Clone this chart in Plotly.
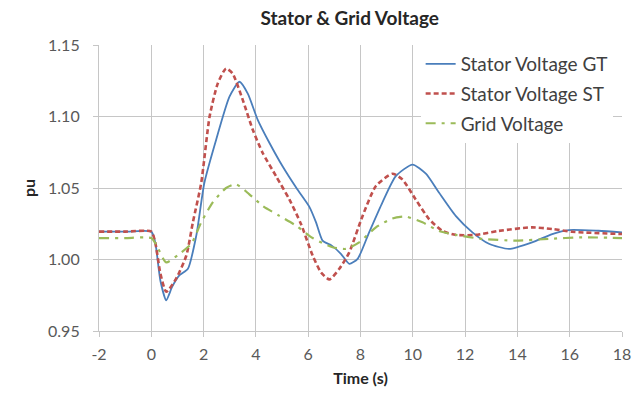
import plotly.graph_objects as go

# Stator Voltage GT (blue, solid)
gt_t = [-2, -1, 0.0, 0.15, 0.35, 0.57, 0.8, 1.08, 1.40, 1.72, 2.03, 2.48, 2.99, 3.37, 3.69, 4.07, 4.52,
        5.02, 5.55, 6.04, 6.30, 6.55, 6.90, 7.25, 7.57, 7.89, 8.33, 8.84, 9.35, 9.99, 10.50, 11.0,
        11.64, 12.28, 12.91, 13.68, 14.56, 15.33, 15.97, 17.1, 18.0]
gt_v = [1.0195, 1.0195, 1.0195, 1.012, 0.985, 0.9715, 0.981, 0.989, 0.9935, 1.0167, 1.0537, 1.0838,
        1.1139, 1.1243, 1.116, 1.0977, 1.0815, 1.0652, 1.050, 1.037, 1.026, 1.0132, 1.0097, 1.004,
        0.997, 1.0005, 1.019, 1.040, 1.0583, 1.0664, 1.0600, 1.0468, 1.0305, 1.019, 1.011, 1.0074,
        1.012, 1.0178, 1.0206, 1.0201, 1.019]

# Stator Voltage ST (red, dashed)
st_t = [-2, -1, 0.0, 0.15, 0.35, 0.57, 0.95, 1.34, 1.59, 1.91, 2.23, 2.54, 2.86, 3.11, 3.50, 3.88,
        4.26, 4.77, 5.28, 5.72, 6.17, 6.49, 6.81, 7.19, 7.57, 8.08, 8.59, 9.22, 9.60, 10.11, 10.62,
        11.13, 11.64, 12.40, 13.29, 14.56, 15.33, 16.09, 18.0]
st_v = [1.0195, 1.0195, 1.0195, 1.012, 0.990, 0.9774, 0.9866, 1.0028, 1.026, 1.0537, 1.100, 1.123,
        1.1336, 1.130, 1.1115, 1.0907, 1.0745, 1.0583, 1.042, 1.025, 1.0028, 0.991, 0.9861, 0.9935,
        1.005, 1.0305, 1.0514, 1.060, 1.056, 1.042, 1.0283, 1.020, 1.0172, 1.0172, 1.020, 1.0225,
        1.0213, 1.0194, 1.0178]

# Grid Voltage (green, dash-dot)
gr_t = [-2, -1, 0.0, 0.2, 0.57, 1.08, 1.53, 1.91, 2.35, 2.86, 3.24, 3.75, 4.26, 4.90, 5.55, 6.17,
        6.93, 7.44, 7.95, 8.59, 9.22, 9.73, 10.37, 11.0, 11.64, 12.66, 13.93, 15.2, 16.47, 18.0]
gr_v = [1.015, 1.015, 1.015, 1.010, 0.998, 1.004, 1.011, 1.026, 1.040, 1.050, 1.0526, 1.0456,
        1.0375, 1.0305, 1.0235, 1.0150, 1.0086, 1.0074, 1.012, 1.0225, 1.0287, 1.030, 1.026, 1.020,
        1.0172, 1.0144, 1.0132, 1.0144, 1.0155, 1.015]

x_ticks = [-2, 0, 2, 4, 6, 8, 10, 12, 14, 16, 18]
y_ticks = [0.95, 1.00, 1.05, 1.10, 1.15]

FONT = "Lato"
fig = go.Figure()
fig.add_trace(go.Scatter(x=gt_t, y=gt_v, name="Stator Voltage GT", mode="lines",
                         line=dict(color="#4a7ebb", width=1.8, shape="spline", smoothing=0.6),
                         legendgroup="a"))
fig.add_trace(go.Scatter(x=st_t, y=st_v, name="Stator Voltage ST", mode="lines",
                         line=dict(color="#c0504d", width=2.6, dash="5px,3px", shape="spline", smoothing=0.6),
                         legendgroup="b"))
fig.add_trace(go.Scatter(x=gr_t, y=gr_v, name="Grid Voltage", mode="lines",
                         line=dict(color="#9bbb59", width=2.2, dash="10px,6px,3px,6px", shape="spline", smoothing=0.6),
                         legendgroup="c"))

axis_common = dict(showgrid=True, gridcolor="#c6c6c6", gridwidth=1.2, zeroline=False,
                   showline=True, linecolor="#c6c6c6", linewidth=1.2,
                   ticks="outside", ticklen=5, tickcolor="#c6c6c6", tickwidth=1.2,
                   tickfont=dict(family=FONT, size=16, color="#595959"))

fig.update_layout(
    width=644, height=396,
    margin=dict(l=99, r=22, t=45, b=63),
    paper_bgcolor="white", plot_bgcolor="white",
    title=dict(text="<b>Stator & Grid Voltage</b>", x=0.543, xanchor="center", y=0.953, yanchor="middle",
               font=dict(family=FONT, size=19, color="#262626")),
    xaxis=dict(range=[-2, 18], tickvals=x_ticks, ticktext=[str(v) for v in x_ticks],
               ticklabelstandoff=4,
               title=dict(text="<b>Time (s)</b>", font=dict(family=FONT, size=16, color="#262626"), standoff=10),
               **axis_common),
    yaxis=dict(range=[0.95, 1.15], tickvals=y_ticks, ticktext=[f"{v:.2f}" for v in y_ticks],
               ticklabelstandoff=10,
               title=dict(text="<b>pu</b>", font=dict(family=FONT, size=16, color="#262626"), standoff=8),
               **axis_common),
    legend=dict(x=0.615, y=1.0, xanchor="left", yanchor="top", bgcolor="white",
                font=dict(family=FONT, size=19, color="#404040"), tracegroupgap=2,
                traceorder="grouped"),
    font=dict(family=FONT),
)

fig.write_html("out.html")
